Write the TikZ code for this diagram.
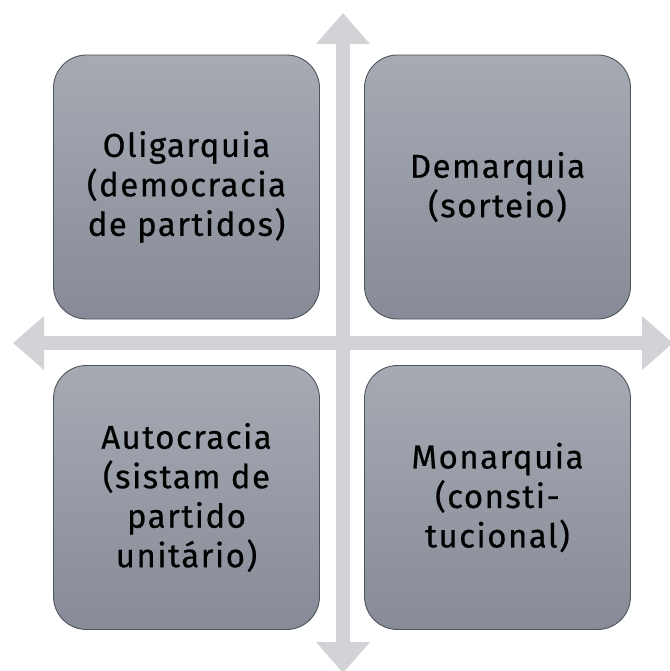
\documentclass[tikz,border=0pt]{standalone}
\usepackage{fontspec}
\usetikzlibrary{arrows.meta}
\newfontfamily\boxfont{Fira Sans}[LetterSpace=4.5,FakeBold=0.5]
\definecolor{arrowgray}{RGB}{209,211,215}
\definecolor{boxtop}{RGB}{166,170,179}
\definecolor{boxbottom}{RGB}{134,139,151}
\definecolor{boxline}{RGB}{80,84,92}
\tikzset{
  quad/.style={draw=boxline, line width=0.9pt, rounded corners=33pt,
    top color=boxtop, bottom color=boxbottom,
    minimum width=266pt, minimum height=264pt, inner sep=0pt,
    align=center, text=black, font=\boxfont\fontsize{33}{39.5}\selectfont},
  axis/.style={draw=arrowgray, line width=14pt,
    {Triangle[width=52pt,length=31pt]}-{Triangle[width=52pt,length=31pt]}}
}
\begin{document}
\begin{tikzpicture}[x=1pt,y=-1pt]
\useasboundingbox (0,0) rectangle (669,671);
\coordinate (top) at (343,13);
\coordinate (bottom) at (343,673);
\coordinate (left) at (13,343);
\coordinate (right) at (673,343);
\draw[axis] (top) -- (bottom);
\draw[axis] (left) -- (right);
\node[quad] (ol) at (186.5,187) {Oligarquia\\(democracia\\de partidos)};
\node[quad] (de) at (497.5,187) {Demarquia\\(sorteio)};
\node[quad] (au) at (186.5,497.5) {Autocracia\\(sistam de\\partido\\unitário)};
\node[quad] (mo) at (497.5,497.5) {Monarquia\\(consti-\\tucional)};
\end{tikzpicture}
\end{document}
